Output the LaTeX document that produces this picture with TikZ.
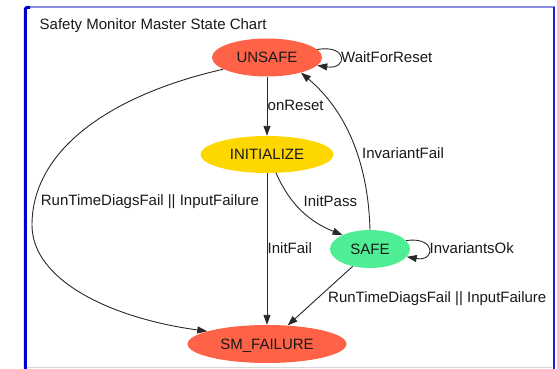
\documentclass[tikz,border=0pt]{standalone}
\usepackage{fontspec}
\setmainfont{Liberation Sans}
\usetikzlibrary{shapes.geometric,arrows.meta}
\definecolor{tomatofill}{RGB}{255,99,71}
\definecolor{goldfill}{RGB}{255,215,0}
\definecolor{greenfill}{RGB}{78,238,148}
\definecolor{inkline}{RGB}{40,40,40}
\definecolor{frameleft}{RGB}{0,0,205}
\definecolor{frametop}{RGB}{140,140,225}
\definecolor{frameright}{RGB}{30,30,220}
\definecolor{framebase}{RGB}{215,215,215}
\begin{document}
\begin{tikzpicture}[x=1pt,y=-1pt,
  txt/.style={font=\fontsize{15pt}{18pt}\selectfont, text=black!90},
  state/.style={txt, ellipse, inner sep=0pt, text height=10.74pt, text depth=0pt},
  lbl/.style={txt, anchor=base west, inner sep=0pt},
  trans/.style={draw=inkline, line width=0.9pt, -{Triangle[length=10pt,width=7pt]}}]
\useasboundingbox (0,0) rectangle (557,369);
\fill[white] (0,0) rectangle (557,369);

% window frame
\draw[framebase, line width=1pt] (27,367.5) -- (552,367.5);
\draw[frametop, line width=2pt] (26,7.5) -- (555,7.5);
\draw[frameright, line width=2.5pt] (553.8,7) -- (553.8,369);
\draw[frameleft, line width=3pt, rounded corners=2pt] (25.3,369) -- (25.3,7.5) -- (30,7.5);

% title
\node[lbl] (title) at (39.5,29.8) {Safety Monitor Master State Chart};

% states
\node[state, fill=tomatofill, minimum width=110pt, minimum height=38pt] (u) at (267,57.5) {UNSAFE};
\node[state, fill=goldfill, minimum width=133pt, minimum height=37pt] (i) at (267,154.5) {INITIALIZE};
\node[state, fill=greenfill, minimum width=80pt, minimum height=38pt] (s) at (370,249) {SAFE};
\node[state, fill=tomatofill, minimum width=159pt, minimum height=38pt] (f) at (267,344) {SM\_FAILURE};

% transitions
\draw[trans] (u.south) -- (i.north);
\draw[trans] (i.south) -- (f.north);
\draw[trans] (i.-64) .. controls (290,205) and (310,222) .. (s.153);
\draw[trans] (s.north) .. controls (368,160) and (345,110) .. (u.-24);
\draw[trans] (s.-135) -- (f.42);
\draw[trans] (u.195) .. controls (110,95) and (32,150) .. (32,225)
                     .. controls (32,280) and (110,318) .. (f.168);
\draw[trans] (u.9) .. controls (348,44) and (348,70) .. (u.-9);
\draw[trans] (s.13) .. controls (436,236) and (436,262) .. (s.-12);

% transition labels
\node[lbl] (lwait) at (341,62.1) {WaitForReset};
\node[lbl] (lreset) at (267.5,110.4) {onReset};
\node[lbl] (linvfail) at (362,158.7) {InvariantFail};
\node[lbl] (lrtleft) at (40.7,205.9) {RunTimeDiagsFail || InputFailure};
\node[lbl] (lpass) at (303.5,206.9) {InitPass};
\node[lbl] (linitfail) at (267.5,253.7) {InitFail};
\node[lbl] (linvok) at (429.5,253.4) {InvariantsOk};
\node[lbl] (lrtright) at (328,302.1) {RunTimeDiagsFail || InputFailure};
\end{tikzpicture}
\end{document}
